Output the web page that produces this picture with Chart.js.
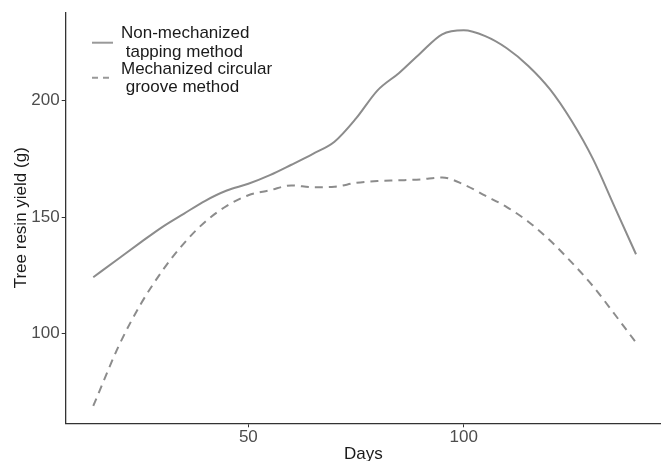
<!DOCTYPE html>
<html>
<head>
<meta charset="utf-8">
<script src="https://cdn.jsdelivr.net/npm/chart.js@4/dist/chart.umd.min.js"></script>
<style>
html,body{margin:0;padding:0;background:#fff;}
canvas{display:block;}
</style>
</head>
<body>
<canvas id="c" width="661" height="461"></canvas>
<script>
const days = [14, 20, 25, 30, 35, 40, 45, 50, 55, 60, 65, 70, 75, 80, 85, 90, 95, 100, 105, 110, 115, 120, 125, 130, 135, 140];
const nonMechanized = [124.1, 132.3, 139.1, 145.7, 151.4, 157.0, 161.4, 164.3, 168.0, 172.5, 177.2, 182.4, 192.4, 204.5, 212.0, 220.6, 228.6, 230.3, 227.8, 222.6, 215.0, 205.0, 191.5, 175.0, 154.5, 134.0];
const mechanized = [68.8, 94.9, 112.5, 126.8, 138.6, 148.0, 154.8, 159.4, 161.5, 163.6, 162.8, 163.0, 164.7, 165.5, 165.8, 166.2, 167.0, 164.0, 159.2, 154.3, 148.0, 140.0, 130.6, 120.3, 108.3, 96.0];
const seriesNames = [["Non-mechanized", " tapping method"], ["Mechanized circular", " groove method"]];
const xTicks = [50, 100];
const yTicks = [100, 150, 200];
const xTitle = "Days";
const yTitle = "Tree resin yield (g)";

const FONT = "'Liberation Sans', Arial, sans-serif";
const lineColor = '#8c8c8c';

const legendPlugin = {
  id: 'customLegend',
  afterDraw(chart) {
    const ctx = chart.ctx;
    ctx.save();
    ctx.lineWidth = 2;
    ctx.strokeStyle = '#999999';
    ctx.setLineDash([]);
    ctx.beginPath(); ctx.moveTo(92, 42.7); ctx.lineTo(113, 42.7); ctx.stroke();
    ctx.setLineDash([6, 5]);
    ctx.beginPath(); ctx.moveTo(92, 77.7); ctx.lineTo(113, 77.7); ctx.stroke();
    ctx.setLineDash([]);
    ctx.fillStyle = '#1a1a1a';
    ctx.font = "17px " + FONT;
    ctx.textBaseline = 'middle';
    ctx.textAlign = 'left';
    ctx.fillText(seriesNames[0][0], 121, 33.5);
    ctx.fillText(seriesNames[0][1], 121, 52.5);
    ctx.fillText(seriesNames[1][0], 121, 69.5);
    ctx.fillText(seriesNames[1][1], 121, 87.5);
    ctx.restore();
  }
};

new Chart(document.getElementById('c'), {
  type: 'line',
  data: {
    datasets: [
      {
        label: seriesNames[0].join(''),
        data: days.map((d, i) => ({x: d, y: nonMechanized[i]})),
        borderColor: lineColor,
        borderWidth: 2,
        pointRadius: 0,
        cubicInterpolationMode: 'monotone',
        fill: false
      },
      {
        label: seriesNames[1].join(''),
        data: days.map((d, i) => ({x: d, y: mechanized[i]})),
        borderColor: lineColor,
        borderWidth: 2,
        borderDash: [8, 6],
        pointRadius: 0,
        cubicInterpolationMode: 'monotone',
        fill: false
      }
    ]
  },
  options: {
    responsive: false,
    animation: false,
    layout: { padding: { top: 12, right: 0, left: 0, bottom: 0 } },
    plugins: { legend: { display: false }, tooltip: { enabled: false } },
    scales: {
      x: {
        type: 'linear',
        min: 7.6,
        max: 145.8,
        afterBuildTicks: s => { s.ticks = xTicks.map(v => ({value: v})); },
        afterFit: s => { s.height = 37.7; },
        grid: { drawOnChartArea: false, drawTicks: true, tickLength: 4, color: '#333333', lineWidth: 1 },
        border: { display: true, color: '#333333', width: 1.3 },
        ticks: { color: '#4d4d4d', font: { family: FONT, size: 17 }, padding: 0, maxRotation: 0 },
        title: { display: true, text: xTitle, color: '#1a1a1a', font: { family: FONT, size: 17, lineHeight: 0.8 }, padding: 0 }
      },
      y: {
        type: 'linear',
        min: 61.3,
        max: 238.1,
        afterBuildTicks: s => { s.ticks = yTicks.map(v => ({value: v})); },
        afterFit: s => { s.width = 65.7; },
        grid: { drawOnChartArea: false, drawTicks: true, tickLength: 4, color: '#333333', lineWidth: 1 },
        border: { display: true, color: '#333333', width: 1.3 },
        ticks: { color: '#4d4d4d', font: { family: FONT, size: 17 }, padding: 2 },
        title: { display: true, text: yTitle, color: '#1a1a1a', font: { family: FONT, size: 17, lineHeight: 1 }, padding: { top: 13, bottom: 0 } }
      }
    }
  },
  plugins: [legendPlugin]
});
</script>
</body>
</html>
